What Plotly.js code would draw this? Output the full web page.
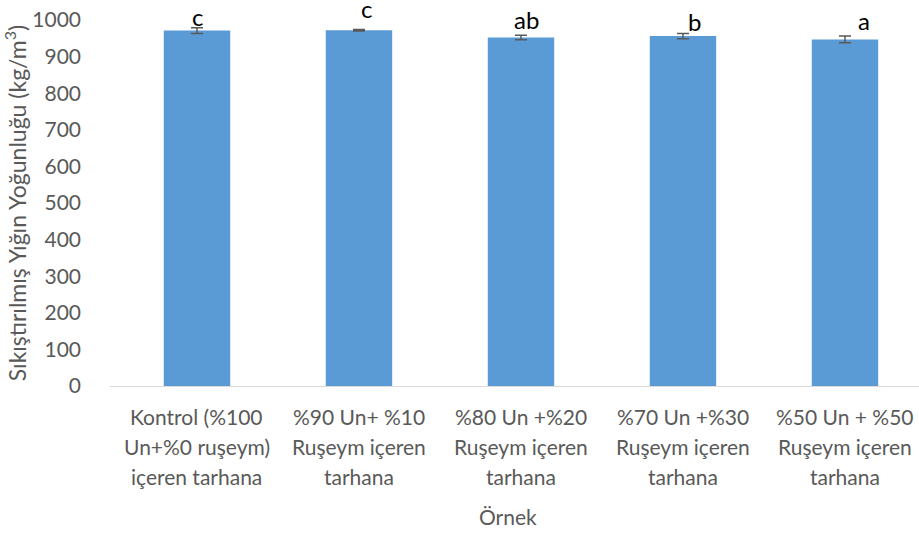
<!DOCTYPE html>
<html>
<head>
<meta charset="utf-8">
<script src="https://cdn.plot.ly/plotly-3.0.1.min.js"></script>
<style>html,body{margin:0;padding:0;background:#fff;}#chart{width:919px;height:534px;}</style>
</head>
<body>
<div id="chart"></div>
<script>
const categories = [
  "Kontrol (%100<br>Un+%0 ruşeym)<br>içeren tarhana",
  "%90 Un+ %10<br>Ruşeym içeren<br>tarhana",
  "%80 Un +%20<br>Ruşeym içeren<br>tarhana",
  "%70 Un +%30<br>Ruşeym içeren<br>tarhana",
  "%50 Un + %50<br>Ruşeym içeren<br>tarhana"
];
const values = [971, 972, 952, 956, 947];
const errors = [8, 2, 6, 7, 9];
const letters = ["c", "c", "ab", "b", "a"];
const yTicks = [0, 100, 200, 300, 400, 500, 600, 700, 800, 900, 1000];

const FONT = "Lato, 'Open Sans', sans-serif";
const GREY = "#595959";

// label placement (pixel tweaks only)
const letterYShiftPx = [-2, 5, 2, -2, 2];
const letterXShiftPx = [1, 8, 6, 12, 19];

const xIdx = categories.map((_, i) => i);

const annotations = [];
letters.forEach((t, i) => {
  annotations.push({
    x: i, y: values[i], xref: 'x', yref: 'y',
    text: t, showarrow: false,
    yanchor: 'bottom', xanchor: 'center',
    xshift: letterXShiftPx[i], yshift: letterYShiftPx[i],
    font: {family: FONT, size: 24, color: '#000'}
  });
});
categories.forEach((c, i) => {
  c.split('<br>').forEach((line, j) => {
    annotations.push({
      x: i, y: 0, xref: 'x', yref: 'paper',
      text: line, showarrow: false,
      xanchor: 'center', yanchor: 'middle',
      yshift: -30 - j * 30,
      font: {family: FONT, size: 21, color: GREY}
    });
  });
});
annotations.push({
  x: 0.5, y: 0, xref: 'paper', yref: 'paper',
  xshift: -7, yshift: -130,
  text: 'Örnek', showarrow: false,
  xanchor: 'center', yanchor: 'middle',
  font: {family: FONT, size: 21, color: GREY}
});

const trace = {
  type: 'bar',
  x: xIdx,
  y: values,
  marker: {color: '#5b9bd5'},
  error_y: {type: 'data', array: errors, visible: true, color: GREY, thickness: 1.5, width: 6},
  hoverinfo: 'y'
};

const layout = {
  width: 919, height: 534,
  margin: {l: 110, r: 0, t: 20, b: 148},
  paper_bgcolor: '#fff', plot_bgcolor: '#fff',
  bargap: 0.59,
  showlegend: false,
  font: {family: FONT, color: GREY},
  xaxis: {
    range: [-0.537, 4.457],
    tickvals: xIdx,
    showticklabels: false,
    showgrid: false, zeroline: false,
    showline: true, linecolor: '#d9d9d9', linewidth: 1,
    ticks: ''
  },
  yaxis: {
    range: [0, 1000],
    tickvals: yTicks,
    ticktext: yTicks.map(String),
    tickfont: {family: FONT, size: 21, color: GREY},
    showgrid: false, zeroline: false, showline: false,
    ticks: '', ticklabelstandoff: 28,
    title: {text: 'Sıkıştırılmış Yığın Yoğunluğu (kg/m<sup>3</sup>)', font: {family: FONT, size: 23, color: GREY}, standoff: 9}
  },
  annotations: annotations
};

Plotly.newPlot('chart', [trace], layout, {displayModeBar: false, staticPlot: true});
</script>
</body>
</html>
